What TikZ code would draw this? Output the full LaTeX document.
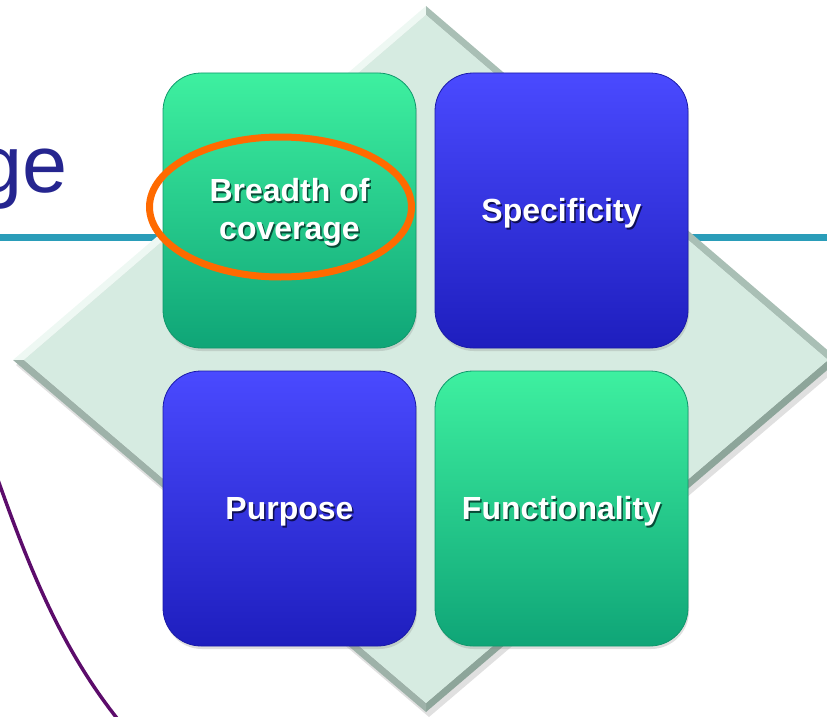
\documentclass[tikz,border=0pt]{standalone}
\usepackage{fontspec}
\setmainfont{Liberation Sans}
\usetikzlibrary{shadows,shapes.geometric}
\definecolor{mint}{HTML}{D6EBE1}
\definecolor{bevlight}{HTML}{EEF8F3}
\definecolor{bevmid}{HTML}{A9BFB5}
\definecolor{bevdark}{HTML}{8DA59A}
\definecolor{tealline}{HTML}{2A9DB9}
\definecolor{titleblue}{HTML}{25258F}
\definecolor{purpleline}{HTML}{5C0C6B}
\definecolor{greentop}{HTML}{3EF0A0}
\definecolor{greenbot}{HTML}{0FA577}
\definecolor{greenedge}{HTML}{10986C}
\definecolor{bluetop}{HTML}{4A4AFF}
\definecolor{bluebot}{HTML}{1E1EBE}
\definecolor{blueedge}{HTML}{1A1AA8}
\definecolor{ringorange}{HTML}{FF6A00}
\newcommand{\shtext}[2]{\makebox[0pt][l]{\kern1.5pt\raisebox{-2pt}{\textcolor{#1}{#2}}}#2}
\tikzset{
  tile/.style={rectangle, rounded corners=38pt, minimum width=253pt, minimum height=275pt, line width=0.8pt,
    drop shadow={shadow xshift=1pt, shadow yshift=-3pt, opacity=0.25}},
  greentile/.style={tile, draw=greenedge, top color=greentop, bottom color=greenbot},
  bluetile/.style={tile, draw=blueedge, top color=bluetop, bottom color=bluebot},
  tiletext/.style={text=white, font=\fontsize{32}{38}\selectfont\bfseries, align=center, inner sep=0pt},
  ring/.style={ellipse, draw=ringorange, line width=7pt, minimum width=262pt, minimum height=140pt, inner sep=0pt},
}
\begin{document}
\begin{tikzpicture}[x=1pt,y=-1pt]
\useasboundingbox (0,0) rectangle (827,717);
\clip (0,0) rectangle (827,717);
% background elements
\draw[tealline, line width=7pt] (0,237) -- (827,237);
\node[anchor=base east, inner sep=0pt, text=titleblue, font=\fontsize{81}{90}\selectfont] (title) at (68,192) {ge};
\draw[purpleline, line width=3.5pt] (-2,480) .. controls (30,570) and (62,650) .. (120,722);
% diamond plate
\coordinate (T) at (426,6);
\coordinate (R) at (839,360);
\coordinate (B) at (426,712);
\coordinate (L) at (13,360);
\coordinate (Ti) at (426,15);
\coordinate (Ri) at (828,360);
\coordinate (Bi) at (426,703);
\coordinate (Li) at (24,360);
\fill[black, opacity=0.12] ([shift={(3,5)}]T) -- ([shift={(3,5)}]R) -- ([shift={(3,5)}]B) -- ([shift={(3,5)}]L) -- cycle;
\fill[bevlight] (T) -- (L) -- (Li) -- (Ti) -- cycle;
\fill[bevmid] (T) -- (R) -- (Ri) -- (Ti) -- cycle;
\fill[bevdark] (R) -- (B) -- (Bi) -- (Ri) -- cycle;
\fill[bevdark!85!white] (B) -- (L) -- (Li) -- (Bi) -- cycle;
\fill[mint] (Ti) -- (Ri) -- (Bi) -- (Li) -- cycle;
% tiles
\node[greentile] (bc) at (289.5,210.5) {};
\node[bluetile] (sp) at (561.5,210.5) {};
\node[bluetile] (pu) at (289.5,508.5) {};
\node[greentile] (fu) at (561.5,508.5) {};
% labels
\node[tiletext] (bct) at ([yshift=-3pt]bc) {\shtext{greenbot!45!black}{Breadth of}\\\shtext{greenbot!45!black}{coverage}};
\node[tiletext] (spt) at ([yshift=-4pt]sp) {\shtext{bluebot!45!black}{Specificity}};
\node[tiletext] (put) at ([yshift=-4pt]pu) {\shtext{bluebot!45!black}{Purpose}};
\node[tiletext] (fut) at ([yshift=-4pt]fu) {\shtext{greenbot!45!black}{Functionality}};
% highlight ring
\node[ring] (hl) at (280.5,207) {};
\end{tikzpicture}
\end{document}
